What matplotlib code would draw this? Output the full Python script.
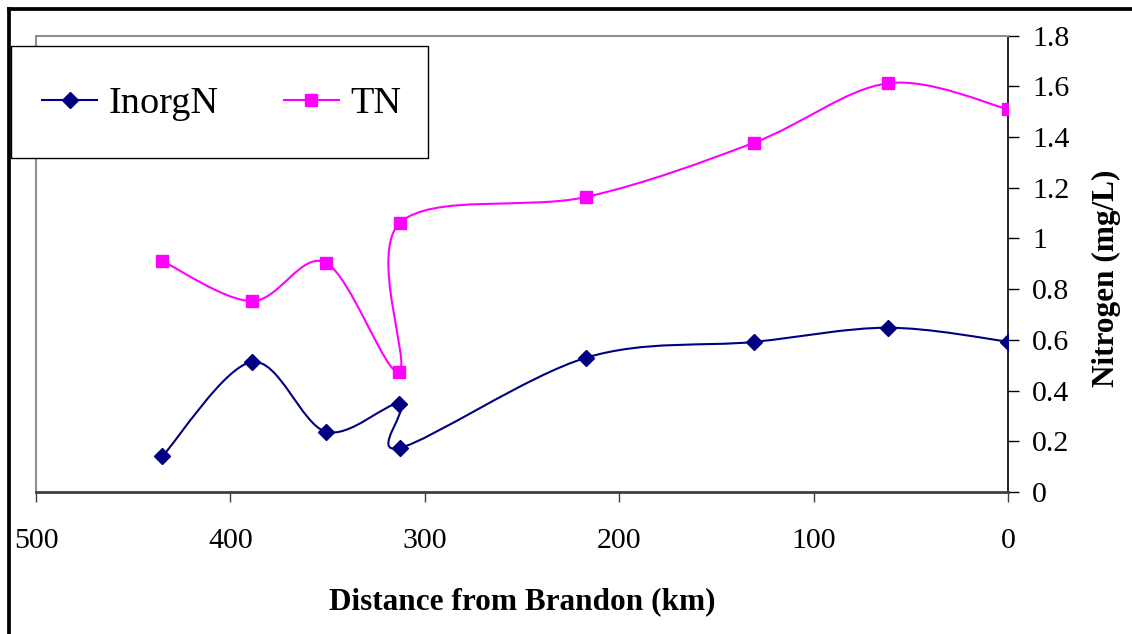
import matplotlib
matplotlib.use('Agg')
import matplotlib.pyplot as plt
from matplotlib.path import Path
from matplotlib.patches import PathPatch, Rectangle
from matplotlib.lines import Line2D
from matplotlib.ticker import FuncFormatter

# distance from Brandon (km) and nitrogen (mg/L)
distance = [435, 389, 351, 313.3, 312.8, 217, 131, 62, 0]
inorg_n = [0.141, 0.513, 0.238, 0.347, 0.174, 0.530, 0.592, 0.648, 0.593]
total_n = [0.911, 0.753, 0.905, 0.475, 1.062, 1.164, 1.377, 1.612, 1.510]

x_ticks = [500, 400, 300, 200, 100, 0]
y_ticks = [0, 0.2, 0.4, 0.6, 0.8, 1.0, 1.2, 1.4, 1.6, 1.8]

NAVY = '#000080'
MAGENTA = '#FF00FF'

plt.rcParams['font.family'] = ['Liberation Serif', 'DejaVu Serif']


def smooth_path(xs, ys):
    # excel style smoothed line: cubic bezier between neighbouring points
    pts = list(zip(xs, ys))
    n = len(pts)
    verts = [pts[0]]
    codes = [Path.MOVETO]
    for i in range(n - 1):
        p0 = pts[i - 1] if i > 0 else pts[i]
        p1 = pts[i]
        p2 = pts[i + 1]
        p3 = pts[i + 2] if i + 2 < n else pts[i + 1]
        c1 = (p1[0] + (p2[0] - p0[0]) / 6, p1[1] + (p2[1] - p0[1]) / 6)
        c2 = (p2[0] - (p3[0] - p1[0]) / 6, p2[1] - (p3[1] - p1[1]) / 6)
        verts += [c1, c2, p2]
        codes += [Path.CURVE4] * 3
    return Path(verts, codes)


fig = plt.figure(figsize=(11.32, 6.34), dpi=100)
ax = fig.add_axes([36 / 1132, 1 - 492 / 634, 972.3 / 1132, 456.3 / 634])

for ys, col, mk, ms in [(inorg_n, NAVY, 'D', 8), (total_n, MAGENTA, 's', 8.5)]:
    ax.add_patch(PathPatch(smooth_path(distance, ys), fill=False,
                           edgecolor=col, lw=1.5, zorder=2))
    ax.plot(distance, ys, linestyle='none', marker=mk, ms=ms,
            color=col, mec=col, zorder=3)

ax.set_xlim(500, 0)
ax.set_ylim(0, 1.8)
ax.set_xticks(x_ticks)
ax.set_yticks(y_ticks)
ax.yaxis.tick_right()
ax.yaxis.set_label_position('right')
ax.yaxis.set_major_formatter(FuncFormatter(lambda v, p: '%g' % v))

ax.tick_params(axis='x', direction='out', length=7, width=1, color='#404040',
               labelsize=21.5, pad=19)
ax.tick_params(axis='y', direction='out', length=8, width=1, color='black',
               labelsize=21.5, pad=9)

for side in ['top', 'left']:
    ax.spines[side].set_color('#909090')
    ax.spines[side].set_linewidth(1.5)
ax.spines['bottom'].set_color('#404040')
ax.spines['bottom'].set_linewidth(2)
ax.spines['right'].set_color('black')
ax.spines['right'].set_linewidth(1.2)

ax.set_xlabel('Distance from Brandon (km)', fontsize=22.5, fontweight='bold')
ax.xaxis.set_label_coords(0.5, (492 - 602) / 456.3)
ax.xaxis.label.set_va('center')
ax.set_ylabel('Nitrogen (mg/L)', fontsize=22.5, fontweight='bold')
ax.yaxis.set_label_coords((1106 - 36) / 972.3, (492 - 278) / 456.3)
ax.yaxis.label.set_va('center')

# legend box
fig.add_artist(Rectangle((11 / 1132, 1 - 158 / 634), 417 / 1132, 112 / 634,
                         transform=fig.transFigure, facecolor='white',
                         edgecolor='black', lw=1, zorder=5))
handles = [Line2D([], [], color=NAVY, lw=1.5, marker='D', ms=8),
           Line2D([], [], color=MAGENTA, lw=1.5, marker='s', ms=8.5)]
leg = fig.legend(handles, ['InorgN', 'TN'], loc='center left',
                 bbox_to_anchor=(42 / 1132, 1 - 104 / 634), ncol=2,
                 frameon=False, fontsize=27.5, borderpad=0, borderaxespad=0,
                 handlelength=1.45, handletextpad=0.3, columnspacing=1.7)
leg.set_zorder(6)

# outer frame on left and top
fig.add_artist(Line2D([8.8 / 1132, 8.8 / 1132], [0, 1 - 8.8 / 634],
                      transform=fig.transFigure, color='black', lw=2.7,
                      solid_capstyle='projecting'))
fig.add_artist(Line2D([8.8 / 1132, 1], [1 - 8.8 / 634, 1 - 8.8 / 634],
                      transform=fig.transFigure, color='black', lw=2.7,
                      solid_capstyle='projecting'))

fig.savefig('out.png', dpi=100)
